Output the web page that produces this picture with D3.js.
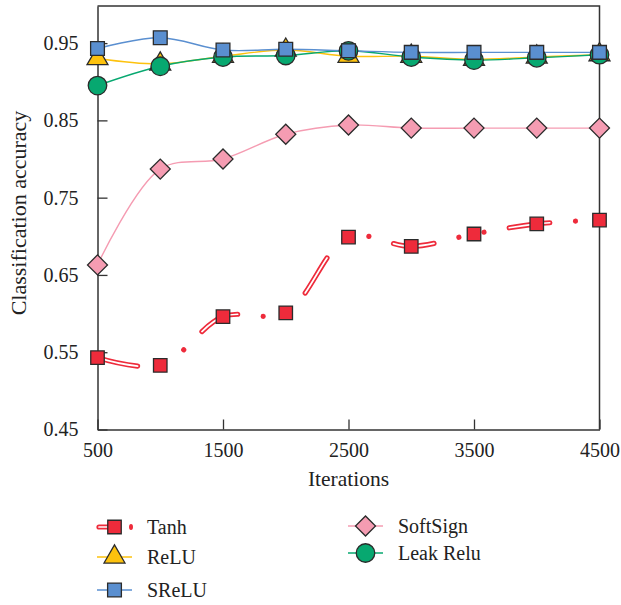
<!DOCTYPE html>
<html>
<head>
<meta charset="utf-8">
<script src="https://cdn.jsdelivr.net/npm/d3@7"></script>
<style>
  body { margin: 0; background: #fff; }
  text { font-family: "Liberation Serif", "DejaVu Serif", serif; fill: #222; }
</style>
</head>
<body>
<svg id="chart" width="621" height="605"></svg>
<script>
// values
var iterations = [500, 1000, 1500, 2000, 2500, 3000, 3500, 4000, 4500];
var tanh      = [0.543, 0.533, 0.596, 0.601, 0.699, 0.687, 0.703, 0.716, 0.721];
var relu      = [0.930, 0.923, 0.933, 0.941, 0.933, 0.933, 0.929, 0.932, 0.935];
var srelu     = [0.943, 0.957, 0.941, 0.942, 0.940, 0.938, 0.938, 0.938, 0.938];
var softsign  = [0.663, 0.787, 0.800, 0.832, 0.844, 0.840, 0.840, 0.840, 0.840];
var leakrelu  = [0.895, 0.920, 0.932, 0.934, 0.940, 0.932, 0.928, 0.931, 0.935];
var xTicks = [500, 1500, 2500, 3500, 4500];
var yTicks = [0.45, 0.55, 0.65, 0.75, 0.85, 0.95];

var svg = d3.select('#chart');
var x = d3.scaleLinear().domain([500, 4500]).range([97.5, 599.5]);
var y = d3.scaleLinear().domain([0.45, 0.998]).range([429.5, 6]);

var red = '#ee2b3b', yellow = '#fdc20e', blue = '#5a8fd0', green = '#07a870', pink = '#f59cb2';
var edge = '#2b2b2b';

function pts(vals) {
  return vals.map(function(v, i) { return [iterations[i], v]; });
}
var line = d3.line()
  .x(function(d) { return x(d[0]); })
  .y(function(d) { return y(d[1]); })
  .curve(d3.curveCatmullRom.alpha(0.5));

// frame + axes
svg.append('path')
  .attr('d', 'M' + x(500) + ',' + y(0.998) + 'H' + x(4500) + 'V' + y(0.45))
  .attr('fill', 'none').attr('stroke', '#333').attr('stroke-width', 1.5);

var yAxis = svg.append('g')
  .attr('transform', 'translate(' + x(500) + ',0)')
  .call(d3.axisLeft(y).tickValues(yTicks).tickFormat(d3.format('.2f'))
        .tickSizeInner(-10).tickSizeOuter(0).tickPadding(19));
var xAxis = svg.append('g')
  .attr('transform', 'translate(0,' + y(0.45) + ')')
  .call(d3.axisBottom(x).tickValues(xTicks).tickFormat(d3.format('d'))
        .tickSizeInner(-10).tickSizeOuter(0).tickPadding(13));
[xAxis, yAxis].forEach(function(a) {
  a.attr('font-family', null);
  a.select('.domain').attr('stroke', '#333').attr('stroke-width', 1.5);
  a.selectAll('.tick line').attr('stroke', '#333').attr('stroke-width', 1.3);
  a.selectAll('text').attr('font-size', 20).attr('fill', '#222')
    .style('font-family', '"Liberation Serif", serif');
});

svg.append('text')
  .attr('x', x(2500)).attr('y', 486)
  .attr('text-anchor', 'middle').attr('font-size', 21.5)
  .text('Iterations');
svg.append('text')
  .attr('transform', 'translate(26,213) rotate(-90)')
  .attr('text-anchor', 'middle').attr('font-size', 22)
  .text('Classification accuracy');

// tanh: outlined dash-dot-dot curve
var tanhPath = line(pts(tanh));
svg.append('path').attr('d', tanhPath)
  .attr('fill', 'none').attr('stroke', red).attr('stroke-width', 5.2)
  .attr('stroke-linecap', 'round')
  .attr('stroke-dasharray', '41,25.6,0.01,25.6,0.01,25.6');
svg.append('path').attr('d', tanhPath)
  .attr('fill', 'none').attr('stroke', '#fff').attr('stroke-width', 1.7)
  .attr('stroke-linecap', 'round')
  .attr('stroke-dasharray', '41,76.82');

// thin lines
[[softsign, pink], [relu, yellow], [leakrelu, green], [srelu, blue]].forEach(function(s) {
  svg.append('path').attr('d', line(pts(s[0])))
    .attr('fill', 'none').attr('stroke', s[1]).attr('stroke-width', 1.4);
});

var symSquare = d3.symbol().type(d3.symbolSquare).size(182);
var symSquareB = d3.symbol().type(d3.symbolSquare).size(190);
var symTri = d3.symbol().type(d3.symbolTriangle).size(190);
var symCircle = d3.symbol().type(d3.symbolCircle).size(270);
var symDiamond = d3.symbol().type(d3.symbolSquare).size(200);

function markers(vals, sym, fill, rot) {
  svg.append('g').selectAll('path')
    .data(pts(vals))
    .enter()
    .append('path')
    .attr('d', sym)
    .attr('transform', function(d) {
      return 'translate(' + x(d[0]) + ',' + y(d[1]) + ')' + (rot ? ' rotate(45)' : '');
    })
    .attr('fill', fill).attr('stroke', edge).attr('stroke-width', 1.3);
}

markers(tanh, symSquare, red);
markers(softsign, symDiamond, pink, true);
markers(relu, symTri, yellow);
markers(leakrelu, symCircle, green);
markers(srelu, symSquareB, blue);

// legend
var legend = [
  {name: 'Tanh', col: 0, yy: 527, color: red, sym: symSquare, kind: 'tanh'},
  {name: 'ReLU', col: 0, yy: 557, color: yellow, sym: symTri},
  {name: 'SReLU', col: 0, yy: 590, color: blue, sym: symSquareB},
  {name: 'SoftSign', col: 1, yy: 526, color: pink, sym: symDiamond, rot: true},
  {name: 'Leak Relu', col: 1, yy: 553, color: green, sym: symCircle}
];
var colX = [97, 348];

legend.forEach(function(d) {
  var g = svg.append('g').attr('transform', 'translate(' + colX[d.col] + ',' + d.yy + ')');
  if (d.kind === 'tanh') {
    g.append('line').attr('x1', 2).attr('x2', 14).attr('y1', 0).attr('y2', 0)
      .attr('stroke', d.color).attr('stroke-width', 5.2).attr('stroke-linecap', 'round');
    g.append('line').attr('x1', 2).attr('x2', 14).attr('y1', 0).attr('y2', 0)
      .attr('stroke', '#fff').attr('stroke-width', 1.7).attr('stroke-linecap', 'round');
    g.append('ellipse').attr('cx', 34).attr('cy', 0).attr('rx', 2).attr('ry', 3)
      .attr('fill', d.color);
  } else {
    g.append('line').attr('x1', 0).attr('x2', 35).attr('y1', 0).attr('y2', 0)
      .attr('stroke', d.color).attr('stroke-width', 1.4);
  }
  g.append('path').attr('d', d.sym)
    .attr('transform', 'translate(17.5,0)' + (d.rot ? ' rotate(45)' : ''))
    .attr('fill', d.color).attr('stroke', edge).attr('stroke-width', 1.3);
  g.append('text').attr('x', 50).attr('y', 7).attr('font-size', 20).text(d.name);
});
</script>
</body>
</html>
